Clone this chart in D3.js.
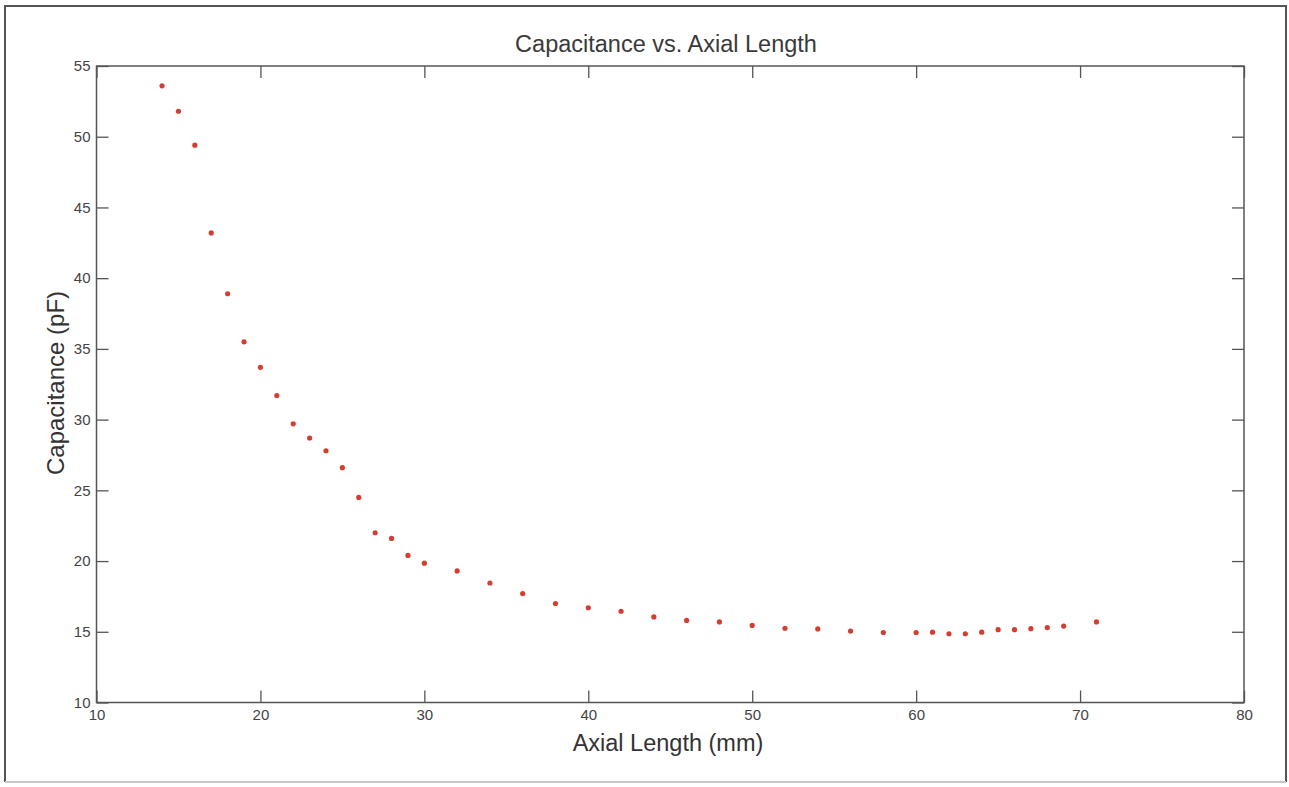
<!DOCTYPE html>
<html>
<head>
<meta charset="utf-8">
<script src="https://cdn.jsdelivr.net/npm/d3@7"></script>
<style>
  body { margin: 0; background: #fff; }
  svg { display: block; }
</style>
</head>
<body>
<div id="canvas"></div>
<script>
// axial length (mm) and measured capacitance (pF)
const axialLength = [14, 15, 16, 17, 18, 19, 20, 21, 22, 23, 24, 25, 26, 27, 28, 29, 30,
    32, 34, 36, 38, 40, 42, 44, 46, 48, 50, 52, 54, 56, 58, 60, 61, 62, 63, 64, 65, 66, 67, 68, 69, 71];
const capacitance = [53.6, 51.8, 49.4, 43.2, 38.9, 35.5, 33.7, 31.7, 29.7, 28.7, 27.8, 26.6, 24.5,
    22.0, 21.6, 20.4, 19.85, 19.3, 18.45, 17.7, 17.0, 16.7, 16.45, 16.05, 15.8, 15.7, 15.45, 15.25,
    15.2, 15.05, 14.95, 14.95, 14.97, 14.86, 14.86, 14.97, 15.15, 15.15, 15.22, 15.3, 15.4, 15.7];
const xTicks = [10, 20, 30, 40, 50, 60, 70, 80];
const yTicks = [10, 15, 20, 25, 30, 35, 40, 45, 50, 55];

const width = 1289, height = 787;
const plotLeft = 96.5, plotRight = 1244, plotTop = 66, plotBottom = 702.5;
const axisColor = '#555';

const svg = d3.select('#canvas').append('svg')
    .attr('width', width)
    .attr('height', height);

// scanned figure frame (bottom edge is faint in the scan)
const frame = svg.append('g').attr('fill', 'none');
frame.append('path')
    .attr('d', 'M5,782 V6 H1286 V782')
    .attr('stroke', '#555')
    .attr('stroke-width', 2);
frame.append('path')
    .attr('d', 'M5,782 H1286')
    .attr('stroke', '#c8c8c8')
    .attr('stroke-width', 2);

const x = d3.scaleLinear().domain([10, 80]).range([plotLeft, plotRight]);
const y = d3.scaleLinear().domain([10, 55]).range([plotBottom, plotTop]);

function styleAxis(g) {
    g.select('.domain').remove();
    g.selectAll('.tick line').attr('stroke', axisColor).attr('stroke-width', 1.3);
    g.selectAll('.tick text')
        .attr('fill', '#444')
        .style('font-family', '"Liberation Sans", Arial, sans-serif')
        .style('font-size', '15px');
}

svg.append('g')
    .attr('transform', `translate(0,${plotBottom})`)
    .call(d3.axisBottom(x).tickValues(xTicks).tickSize(-12).tickPadding(7).tickFormat(d3.format('d')))
    .call(styleAxis);

svg.append('g')
    .attr('transform', `translate(0,${plotTop})`)
    .call(d3.axisTop(x).tickValues(xTicks).tickSize(-12).tickFormat(''))
    .call(styleAxis);

svg.append('g')
    .attr('transform', `translate(${plotLeft},0)`)
    .call(d3.axisLeft(y).tickValues(yTicks).tickSize(-12).tickPadding(6).tickFormat(d3.format('d')))
    .call(styleAxis);

svg.append('g')
    .attr('transform', `translate(${plotRight},0)`)
    .call(d3.axisRight(y).tickValues(yTicks).tickSize(-12).tickFormat(''))
    .call(styleAxis);

// plot box
svg.append('rect')
    .attr('x', plotLeft).attr('y', plotTop)
    .attr('width', plotRight - plotLeft).attr('height', plotBottom - plotTop)
    .attr('fill', 'none')
    .attr('stroke', axisColor)
    .attr('stroke-width', 1.5);

const points = axialLength.map(function (d, i) {
    return { len: d, cap: capacitance[i] };
});

svg.append('g')
    .selectAll('circle')
    .data(points)
    .enter()
    .append('circle')
    .attr('cx', function (d) { return x(d.len); })
    .attr('cy', function (d) { return y(d.cap); })
    .attr('r', 2.6)
    .attr('fill', '#d43d30');

const font = '"Liberation Sans", Arial, sans-serif';

svg.append('text')
    .attr('x', 666)
    .attr('y', 52)
    .attr('text-anchor', 'middle')
    .attr('fill', '#3a3a3a')
    .style('font-family', font)
    .style('font-size', '23.5px')
    .text('Capacitance vs. Axial Length');

svg.append('text')
    .attr('x', 668)
    .attr('y', 751)
    .attr('text-anchor', 'middle')
    .attr('fill', '#333')
    .style('font-family', font)
    .style('font-size', '23.5px')
    .text('Axial Length (mm)');

svg.append('text')
    .attr('transform', 'translate(64,383) rotate(-90)')
    .attr('text-anchor', 'middle')
    .attr('fill', '#333')
    .style('font-family', font)
    .style('font-size', '24px')
    .text('Capacitance (pF)');
</script>
</body>
</html>
